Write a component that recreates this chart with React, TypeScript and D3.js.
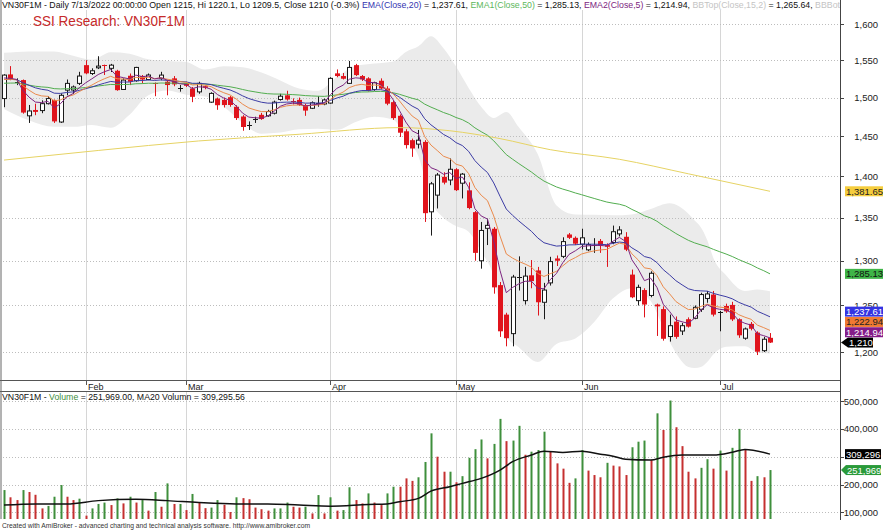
import React from 'react';
import * as d3 from 'd3';

// ---------- DATA ----------
const opens = [1498.7,1530.8,1521,1523.2,1476.2,1483.8,1483,1492,1496.9,1468.2,1509.8,1510,1518.8,1543.3,1532,1539.7,1543.7,1539,1535.7,1510.7,1529,1522.3,1528.6,1524,1518.8,1525.5,1521,1525.5,1512,1518.8,1512,1507.5,1515,1494,1498.7,1496.9,1500.5,1488,1475.3,1463,1471,1477.5,1476.2,1479.6,1497.5,1503,1496,1497,1490.3,1486,1492,1491.6,1492.8,1532.2,1528.6,1518.8,1543.3,1528.6,1525.5,1510.7,1522.3,1512,1494,1476.2,1456.3,1445,1440,1442.8,1357,1377,1399.3,1395.4,1408.6,1391.5,1382.8,1356.6,1300,1337.5,1337,1272.5,1240,1219.5,1281,1255.3,1283.5,1289,1253.5,1275,1302.6,1305,1330.3,1326.4,1319,1312.5,1318,1322.8,1318,1321,1331,1327.6,1284.3,1255.3,1267,1261,1251,1246,1216.4,1232.4,1222.3,1235,1236,1245.8,1257.7,1262,1242,1249.5,1250.6,1235,1214.6,1230,1220.6,1201.4,1215];
const highs = [1531,1542,1525.5,1524,1490.3,1492,1496.4,1501.8,1497.5,1505.5,1524,1516,1534.3,1550,1539,1555.4,1544,1545,1537,1525.5,1532,1541,1530,1532,1520,1534.3,1523,1528.6,1516.6,1521,1514,1521,1516,1507,1500,1500,1502,1490,1477,1469,1475,1480,1484,1496,1505,1509,1499,1500,1492,1495,1501.8,1498.7,1527,1537.5,1532.7,1549,1545,1530,1527,1521,1525.5,1515,1496,1478,1459,1447,1458,1445,1393,1404,1405,1422,1410,1404,1392.5,1358,1345,1349,1339,1276,1242,1284,1305,1293,1300.8,1293,1275,1304.5,1306,1327,1332,1328,1337,1321,1326,1325,1320,1340.7,1340,1333,1290,1273,1269,1288,1252,1249,1240,1238,1231,1237,1250,1264,1266,1266,1244,1252,1254,1236,1226,1232,1222,1216,1220.1];
const lows = [1487.4,1523,1516.5,1479,1467,1477,1479.6,1491,1467,1467,1503,1505,1516.6,1531,1530,1538,1530,1534,1509,1510,1516.5,1521,1518.8,1523,1501.8,1523,1503,1515,1507.8,1514,1494,1505,1511,1493,1484,1487,1488,1470.8,1457,1458,1467,1471,1475,1478,1496,1496,1491,1489,1476.2,1485,1488,1490,1492,1527,1524,1518,1528.6,1522,1508,1509,1511,1490,1471,1449,1434.5,1424,1434.5,1345,1329,1361,1390,1389,1382,1373,1360,1300,1291,1318,1263,1216,1206,1206,1266.5,1251,1269,1239,1235,1272,1294,1303,1325,1318,1313,1311,1309,1309,1293,1319,1328,1311,1258,1250,1237,1259,1217,1212,1211,1214,1218,1226,1235,1243,1253,1238,1222,1242,1233,1215,1213,1223,1196.8,1200,1209.5];
const closes = [1529.9,1524.9,1521,1480.4,1482.5,1481.3,1492,1498.7,1469,1503,1518.8,1514,1528.6,1532.2,1535.7,1542,1542,1543.3,1509.8,1523.2,1521,1540.2,1524,1530,1517,1529.9,1516.6,1517.5,1512.5,1515.6,1501,1518.8,1513,1505.5,1490,1490.3,1490.3,1473.3,1461.8,1464,1472,1472,1481.7,1494,1501.8,1497.5,1494.7,1490.5,1483,1493.2,1493,1496.9,1525.5,1528.6,1525,1540.2,1529.9,1524,1509,1519.6,1512,1492,1473.3,1454.5,1438.8,1434.5,1445,1355.4,1390.7,1401.5,1392.2,1408.6,1383,1402.6,1361.5,1309,1335,1341,1270,1222,1214.6,1281.5,1282,1282.6,1277,1253.5,1267,1299,1300,1322,1326.4,1319.6,1326.4,1318.5,1318.5,1317.3,1316,1333.5,1335.6,1312.7,1259,1270,1251,1285.8,1249,1214,1228,1216,1228,1227,1248,1262,1262.7,1240,1243,1243.5,1234.8,1217.7,1224.5,1224.7,1200.3,1213.5,1210];

const ema5 = [1526,1525.6,1524.1,1509.5,1500.5,1494.1,1493.4,1495.2,1486.5,1492,1500.9,1505.3,1513.1,1519.5,1524.9,1530.6,1534.4,1537.4,1528.2,1526.5,1524.7,1529.9,1527.9,1528.6,1524.7,1526.4,1523.1,1521.2,1518.3,1517.4,1511.9,1514.2,1513.8,1511,1504,1499.4,1496.4,1488.7,1479.7,1474.5,1473.7,1473.1,1476,1482,1488.6,1491.6,1492.6,1491.9,1488.9,1490.3,1491.2,1493.1,1503.9,1512.1,1516.4,1524.3,1526.2,1525.5,1520,1519.9,1517.3,1508.9,1497,1482.8,1468.1,1456.9,1452.9,1420.4,1410.5,1407.5,1402.4,1404.5,1397.3,1399.1,1386.6,1360.7,1352.1,1348.4,1322.3,1288.9,1264.1,1269.9,1273.9,1276.8,1276.9,1269.1,1268.4,1278.6,1285.7,1297.8,1307.3,1311.4,1316.4,1317.1,1317.6,1317.5,1317,1322.5,1326.9,1322.2,1301.1,1290.7,1277.5,1280.3,1269.9,1251.3,1243.5,1234.3,1232.2,1230.5,1236.3,1244.9,1250.8,1247.2,1245.8,1245,1241.6,1233.6,1230.6,1228.6,1219.2,1217.3,1214.94];
const ema10 = [1524,1524.2,1523.6,1515.7,1509.7,1504.5,1502.2,1501.6,1495.7,1497,1501,1503.4,1508,1512.4,1516.6,1521.2,1525,1528.3,1524.9,1524.6,1524,1526.9,1526.4,1527,1525.2,1526.1,1524.4,1523.1,1521.2,1520.2,1516.7,1517.1,1516.4,1514.4,1510,1506.4,1503.5,1498,1491.4,1486.4,1483.8,1481.7,1481.7,1483.9,1487.2,1489.1,1490.1,1490.2,1488.9,1489.7,1490.3,1491.5,1497.7,1503.3,1507.2,1513.2,1516.2,1517.6,1516,1516.7,1515.8,1511.5,1504.6,1495.5,1485.2,1476,1470.4,1449.5,1438.8,1432,1424.8,1421.9,1414.8,1412.6,1403.3,1386.2,1376.9,1370.4,1352.1,1328.5,1307.8,1303,1299.2,1296.2,1292.7,1285.6,1282.2,1285.3,1288,1294.2,1300,1303.6,1307.7,1309.7,1311.3,1312.4,1313,1316.7,1320.2,1318.8,1307.9,1301,1291.9,1290.8,1283.2,1270.6,1262.9,1254.4,1249.6,1245.5,1246,1248.9,1251.4,1249.3,1248.2,1247.3,1245,1240,1237.2,1234.9,1228.6,1225.9,1222.94];
const ema20 = [1524,1524.1,1523.8,1519.7,1516.2,1512.9,1510.9,1509.7,1505.8,1505.5,1506.8,1507.5,1509.5,1511.7,1514,1516.7,1519.1,1521.4,1520.3,1520.6,1520.6,1522.5,1522.6,1523.3,1522.7,1523.4,1522.8,1522.3,1521.4,1520.8,1518.9,1518.9,1518.3,1517.1,1514.5,1512.2,1510.1,1506.6,1502.3,1498.7,1496.2,1493.9,1492.7,1492.8,1493.7,1494,1494.1,1493.8,1492.7,1492.8,1492.8,1493.2,1496.3,1499.4,1501.8,1505.5,1507.8,1509.3,1509.3,1510.3,1510.5,1508.7,1505.3,1500.5,1494.6,1488.9,1484.7,1472.4,1464.6,1458.6,1452.3,1448.1,1441.9,1438.2,1430.9,1419.3,1411.3,1404.6,1391.8,1375.6,1360.3,1352.8,1346.1,1340,1334,1326.3,1320.7,1318.6,1316.8,1317.3,1318.2,1318.3,1319.1,1319,1319,1318.8,1318.5,1320,1321.5,1320.7,1314.8,1310.5,1304.8,1303,1297.9,1289.9,1284,1277.5,1272.8,1268.4,1266.5,1266.1,1265.8,1263.3,1261.4,1259.7,1257.3,1253.5,1250.7,1248.2,1243.6,1240.7,1237.61];
const ema50 = [1519,1519.2,1519.3,1517.8,1516.4,1515,1514.1,1513.5,1511.8,1511.4,1511.7,1511.8,1512.5,1513.3,1514.2,1515.3,1516.3,1517.4,1517.1,1517.3,1517.4,1518.3,1518.5,1519,1518.9,1519.3,1519.2,1519.1,1518.9,1518.8,1518.1,1518.1,1517.9,1517.4,1516.3,1515.3,1514.3,1512.7,1510.7,1508.9,1507.5,1506.1,1505.1,1504.7,1504.6,1504.3,1503.9,1503.4,1502.6,1502.2,1501.8,1501.6,1502.5,1503.5,1504.3,1505.7,1506.7,1507.4,1507.5,1508,1508.2,1507.6,1506.3,1504.3,1501.7,1499.1,1497,1491.4,1487.5,1484.1,1480.5,1477.7,1474,1471.2,1466.9,1460.7,1455.8,1451.3,1444.2,1435.5,1426.8,1421.1,1415.6,1410.4,1405.2,1399.3,1394.1,1390.4,1386.9,1384.3,1382.1,1379.6,1377.5,1375.2,1373,1370.8,1368.7,1367.3,1366.1,1364,1359.9,1356.4,1352.3,1349.7,1345.8,1340.6,1336.2,1331.5,1327.4,1323.5,1320.5,1318.2,1316,1313,1310.3,1307.7,1304.8,1301.4,1298.4,1295.5,1291.8,1288.7,1285.13];
const ema200Idx = [0, 15, 31, 47, 63, 71, 79, 87, 98, 109, 122];
const ema200Val = [1420, 1432, 1444, 1452.5, 1461, 1457, 1447, 1433, 1421, 1403, 1381.65];

const bbIdx = [0,4,8,11,14,17,20,23,26,29,32,35,38,41,44,47,50,53,56,59,62,64,66,68,70,72,74,76,78,80,82,85,88,91,94,97,100,103,106,109,110,111,112,113,115,118,120,122];
const bbTop = [1560,1562,1562,1556,1550.5,1560.9,1558.9,1551.2,1549,1547.7,1537.5,1541.9,1540.5,1533.2,1522.7,1512,1508.9,1527.2,1542.1,1545.4,1548.4,1561.3,1569,1582.9,1566.5,1541.4,1512.8,1488,1473.5,1481.3,1461.4,1427.5,1364.5,1353.8,1353.5,1352.8,1353.9,1360.4,1367.3,1354.8,1346.8,1338.6,1323.9,1302.9,1283.6,1266,1267.5,1265.64];
const bbBot = [1485,1470,1462,1462,1464.5,1460.9,1477.7,1503.2,1509.2,1503.7,1501.5,1487.9,1466.9,1453.3,1454.7,1458.8,1459.6,1458.2,1468.3,1475,1471,1447.3,1424.8,1369.7,1350.1,1340.2,1333.6,1310.4,1282.3,1216.5,1205,1189.5,1208.5,1214.2,1231.9,1257.8,1269.1,1254.8,1210.9,1184.4,1183.2,1184.2,1189.5,1197.7,1205.6,1206,1199.5,1198.4];

const volumesK = [180,154,144,180,173,163,114,123,156,198,156,144,149,88,114,130,135,126,150,132,156,135,144,106,173,120,204,130,130,108,166,135,115,117,144,127,101,154,151,147,117,111,106,114,114,135,120,117,120,96,162,96,154,106,108,190,144,132,168,135,126,168,192,192,222,213,226,281,384,300,246,246,208,230,296,327,362,294,346,436,356,358,411,307,318,324,390,318,276,257,206,222,324,250,234,226,278,268,265,234,334,354,358,288,456,396,502,406,338,246,222,260,291,257,322,250,332,400,324,213,230,226,251.969];
const volumeUp = [1,0,0,1,0,0,0,1,1,1, 0,0,1,0,1,1,1,0,1,0, 1,0,1,0,1,0,1,0,1,0, 1,0,0,1,1,0,0,1,0,0, 0,0,0,1,1,1,0,0,1,0, 1,0,1,0,1,1,0,0,1,0, 0,1,1,0,0,0,1,1,1,0, 0,1,0,1,1,1,1,0,1,1, 0,1,1,0,1,1,1,0,0,0, 0,1,1,0,0,0,1,0,0,0, 1,1,1,0,1,0,1,0,0,0, 0,1,1,0,1,0,1,1,0,0, 1,0,1];
const ma20Idx = [0,5,10,15,21,26,31,37,42,47,52,58,61,63,66,68,71,73,76,79,81,84,86,89,92,95,97,99,103,105,108,110,113,116,118,122];
const ma20K = [126,130,130,142,147,142,135,130,130,126,122,128,130,138,150,176,192,204,222,252,282,306,320,315,320,309,302,291,288,298,306,306,306,316,326,309.296];

const monthLabels = ['Feb', 'Mar', 'Apr', 'May', 'Jun', 'Jul'];
const monthIdx = [13, 29, 52, 72, 92, 114];
const priceTicks = [1200, 1250, 1300, 1350, 1400, 1450, 1500, 1550, 1600];
const volumeTicks = [100000, 200000, 300000, 400000, 500000];

// ---------- LAYOUT ----------
const W = 883, H = 530;
const PR = 840; // right edge of plots
const P_TOP = 10, P_BOT = 380.5;
const V_TOP = 392, V_BOT = 519;
const FONT = "'Liberation Sans', Arial, Helvetica, sans-serif";

const RED = '#e0141c';
const C_EMA200 = '#e6d364';
const C_EMA50 = '#52ad4f';
const C_EMA20 = '#3c3ca4';
const C_EMA10 = '#ea8a4c';
const C_EMA5 = '#7d2580';

export default function App() {
  const n = closes.length;
  const x = d3.scaleLinear().domain([0, n - 1]).range([4, 770]);
  const y = d3.scaleLog().domain([1200, 1600]).range([352, 24]);
  const yv = d3.scaleLinear().domain([100000, 500000]).range([512.3, 401.1]);
  const fmt = d3.format(',');
  const fmt2 = d3.format(',.2f');

  const lineIdx = (arr: number[]) =>
    d3.line<number>().x((_, i) => x(i)).y((v) => y(v))(arr) || '';
  const ema200Path = d3.line<number>()
    .x((_, k) => x(ema200Idx[k])).y((v) => y(v))
    .curve(d3.curveMonotoneX)(ema200Val) || '';
  const bandPath = d3.area<number>()
    .x((i) => x(i))
    .y0((_, k) => y(bbBot[k]))
    .y1((_, k) => y(bbTop[k]))
    .curve(d3.curveMonotoneX)(bbIdx) || '';
  const maPath = d3.line<number>()
    .x((i) => x(i))
    .y((_, k) => yv(ma20K[k] * 1000))
    .curve(d3.curveMonotoneX)(ma20Idx) || '';

  // right-axis value boxes, stacked so they do not overlap
  const lastClose = closes[n - 1];
  const boxes = [
    { v: lastClose, label: fmt(lastClose), bg: '#000', fg: '#fff', arrow: true },
    { v: ema5[n - 1], label: fmt2(ema5[n - 1]), bg: '#851c88', fg: '#fff', arrow: false },
    { v: ema10[n - 1], label: fmt2(ema10[n - 1]), bg: '#f07a32', fg: '#222', arrow: false },
    { v: ema20[n - 1], label: fmt2(ema20[n - 1]), bg: '#3434e2', fg: '#fff', arrow: false },
    { v: ema50[n - 1], label: fmt2(ema50[n - 1]), bg: '#3fb548', fg: '#111', arrow: false },
    { v: ema200Val[ema200Val.length - 1], label: fmt2(ema200Val[ema200Val.length - 1]), bg: '#f5cd3e', fg: '#222', arrow: false },
  ];
  const placed: { cy: number; b: typeof boxes[0] }[] = [];
  let prev = Infinity;
  boxes.forEach((b) => {
    const nat = y(b.v);
    const cy = Math.min(nat, prev - 10.3);
    placed.push({ cy, b });
    prev = cy;
  });

  const lastVol = volumesK[n - 1] * 1000;
  const lastMa = ma20K[ma20K.length - 1] * 1000;
  const BOXH = 10;
  const volBoxYs = [yv(lastMa), yv(lastVol)];
  const volTickVisible = (t: number) => volBoxYs.every((cy) => Math.abs(yv(t) - cy) > 3);

  return (
    <svg width={W} height={H} style={{ position: 'absolute', left: 0, top: 0, background: '#fff' }} fontFamily={FONT}>
      <defs>
        <clipPath id="pclip"><rect x={1} y={P_TOP} width={PR - 1} height={P_BOT - P_TOP} /></clipPath>
        <clipPath id="vclip"><rect x={1} y={V_TOP} width={PR - 1} height={V_BOT - V_TOP} /></clipPath>
        <clipPath id="hclip"><rect x={0} y={0} width={PR} height={12} /></clipPath>
      </defs>
      <rect x={0} y={0} width={W} height={H} fill="#fff" />

      {/* ---------- PRICE PANEL ---------- */}
      <g clipPath="url(#pclip)">
        <path d={bandPath} fill="#ebebeb" stroke="none" />
        {monthIdx.map((m, k) => (
          <line key={'pv' + k} x1={Math.round(x(m)) + 0.5} x2={Math.round(x(m)) + 0.5} y1={0} y2={P_BOT} stroke="#d6d6d6" strokeWidth={1} />
        ))}
        {priceTicks.map((t) => (
          <line key={'ph' + t} x1={0} x2={PR} y1={Math.round(y(t)) + 0.5} y2={Math.round(y(t)) + 0.5} stroke="#bdbdbd" strokeWidth={1} strokeDasharray="1,2" />
        ))}
        {closes.map((c, i) => {
          const o = opens[i];
          const up = c >= o;
          const cx = Math.round(x(i)) + 0.5;
          const top = y(Math.max(o, c));
          const bot = y(Math.min(o, c));
          const h = bot - top;
          const col = up ? '#1a1a1a' : RED;
          return (
            <g key={'c' + i}>
              <line x1={cx} x2={cx} y1={y(highs[i])} y2={y(lows[i])} stroke={col} strokeWidth={1} />
              {h < 1.5 ? (
                <line x1={cx - 2.5} x2={cx + 2.5} y1={Math.round(top) + 0.5} y2={Math.round(top) + 0.5} stroke={col} strokeWidth={1} />
              ) : up ? (
                <rect x={cx - 2} y={top} width={4} height={h} fill="#fff" stroke={col} strokeWidth={1} />
              ) : (
                <rect x={cx - 2.5} y={top} width={5} height={h} fill={RED} stroke="none" />
              )}
            </g>
          );
        })}
        <path d={ema200Path} fill="none" stroke={C_EMA200} strokeWidth={1} />
        <path d={lineIdx(ema50)} fill="none" stroke={C_EMA50} strokeWidth={1} />
        <path d={lineIdx(ema20)} fill="none" stroke={C_EMA20} strokeWidth={1} />
        <path d={lineIdx(ema10)} fill="none" stroke={C_EMA10} strokeWidth={1} />
        <path d={lineIdx(ema5)} fill="none" stroke={C_EMA5} strokeWidth={1} />
      </g>

      {/* header: one text line with coloured runs */}
      <g clipPath="url(#hclip)">
        <text x={2} y={8} fontSize={9} fill="#111" textLength={838} lengthAdjust="spacingAndGlyphs">
          <tspan>VN30F1M - Daily 7/13/2022 00:00:00 Open 1215, Hi 1220.1, Lo 1209.5, Close 1210 (-0.3%) </tspan>
          <tspan fill="#3434b0">EMA(Close,20)</tspan>
          <tspan> = 1,237.61, </tspan>
          <tspan fill="#5cb85c">EMA1(Close,50)</tspan>
          <tspan> = 1,285.13, </tspan>
          <tspan fill="#7d2580">EMA2(Close,5)</tspan>
          <tspan> = 1,214.94, </tspan>
          <tspan fill="#c4c4c4">BBTop(Close,15,2)</tspan>
          <tspan> = 1,265.64, </tspan>
          <tspan fill="#c4c4c4">BBBot</tspan>
        </text>
      </g>
      <text x={33} y={26} fontSize={14} fill="#c62a2a" textLength={152} lengthAdjust="spacingAndGlyphs">SSI Research: VN30F1M</text>

      {/* ---------- X AXIS STRIP ---------- */}
      <line x1={0} x2={PR} y1={380.5} y2={380.5} stroke="#555" strokeWidth={1} />
      <line x1={0} x2={PR} y1={391.5} y2={391.5} stroke="#555" strokeWidth={1} />
      {monthIdx.map((m, k) => (
        <g key={'mt' + k}>
          <line x1={Math.round(x(m)) + 0.5} x2={Math.round(x(m)) + 0.5} y1={381} y2={385} stroke="#555" strokeWidth={1} />
          <text x={Math.round(x(m)) + 2} y={389.5} fontSize={9} fill="#222">{monthLabels[k]}</text>
        </g>
      ))}

      {/* ---------- VOLUME PANEL ---------- */}
      <g clipPath="url(#vclip)">
        {monthIdx.map((m, k) => (
          <line key={'vv' + k} x1={Math.round(x(m)) + 0.5} x2={Math.round(x(m)) + 0.5} y1={V_TOP} y2={V_BOT} stroke="#d6d6d6" strokeWidth={1} />
        ))}
        {volumeTicks.map((t) => (
          <line key={'vh' + t} x1={0} x2={PR} y1={Math.round(yv(t)) + 0.5} y2={Math.round(yv(t)) + 0.5} stroke="#bdbdbd" strokeWidth={1} strokeDasharray="1,2" />
        ))}
        {volumesK.map((v, i) => {
          const top = yv(v * 1000);
          return (
            <rect key={'v' + i} x={Math.round(x(i)) - 0.5} y={top} width={2} height={V_BOT - top}
              fill={volumeUp[i] ? '#3f8f3c' : '#c53030'} />
          );
        })}
        <path d={maPath} fill="none" stroke="#111" strokeWidth={1.5} />
      </g>
      <text x={2} y={400} fontSize={9} fill="#111" textLength={243} lengthAdjust="spacingAndGlyphs">
        <tspan>VN30F1M - </tspan>
        <tspan fill="#3f8f3c">Volume</tspan>
        <tspan> = 251,969.00, MA20 Volumn = 309,295.56</tspan>
      </text>

      {/* ---------- BORDERS / RIGHT AXIS ---------- */}
      <line x1={1} x2={1} y1={0} y2={V_BOT} stroke="#666" strokeWidth={1} />
      <line x1={PR + 0.5} x2={PR + 0.5} y1={0} y2={V_BOT + 1} stroke="#444" strokeWidth={1} />

      {priceTicks.map((t) => (
        <g key={'pt' + t}>
          <line x1={PR} x2={PR + 4} y1={Math.round(y(t)) + 0.5} y2={Math.round(y(t)) + 0.5} stroke="#444" strokeWidth={1} />
          <text x={878} y={y(t) + 3.5} fontSize={9.5} fill="#222" textAnchor="end">{fmt(t)}</text>
        </g>
      ))}
      {volumeTicks.map((t) => (
        <g key={'vt' + t}>
          <line x1={PR} x2={PR + 4} y1={Math.round(yv(t)) + 0.5} y2={Math.round(yv(t)) + 0.5} stroke="#444" strokeWidth={1} />
          {volTickVisible(t) && (
            <text x={878} y={yv(t) + 3.5} fontSize={9.5} fill="#222" textAnchor="end">{fmt(t)}</text>
          )}
        </g>
      ))}

      {placed.map(({ cy, b }, k) => (
        <g key={'bx' + k}>
          {b.arrow ? (
            <>
              <path d={`M${PR + 1},${cy} L${PR + 8},${cy - BOXH / 2} L${PR + 8},${cy + BOXH / 2} Z`} fill={b.bg} />
              <rect x={PR + 8} y={cy - BOXH / 2} width={25} height={BOXH} fill={b.bg} />
              <text x={PR + 9} y={cy + 3.5} fontSize={9.5} fill={b.fg}>{b.label}</text>
            </>
          ) : (
            <>
              <rect x={PR + 5} y={cy - BOXH / 2} width={W - PR - 5} height={BOXH} fill={b.bg} />
              <text x={PR + 6} y={cy + 3.5} fontSize={9.5} fill={b.fg}>{b.label}</text>
            </>
          )}
        </g>
      ))}

      {/* volume boxes */}
      <g>
        <rect x={PR + 5} y={yv(lastMa) - BOXH / 2} width={36} height={BOXH} fill="#000" />
        <text x={PR + 6} y={yv(lastMa) + 3.5} fontSize={9.5} fill="#fff">{fmt(Math.round(lastMa))}</text>
        <path d={`M${PR + 1},${yv(lastVol)} L${PR + 6},${yv(lastVol) - BOXH / 2} L${PR + 6},${yv(lastVol) + BOXH / 2} Z`} fill="#2a9a3a" />
        <rect x={PR + 6} y={yv(lastVol) - BOXH / 2} width={35} height={BOXH} fill="#2a9a3a" />
        <text x={PR + 7} y={yv(lastVol) + 3.5} fontSize={9.5} fill="#fff">{fmt(Math.round(lastVol))}</text>
      </g>

      {/* footer */}
      <text x={2} y={528} fontSize={7} fill="#333" textLength={308} lengthAdjust="spacingAndGlyphs">Created with AmiBroker - advanced charting and technical analysis software. http://www.amibroker.com</text>
    </svg>
  );
}
